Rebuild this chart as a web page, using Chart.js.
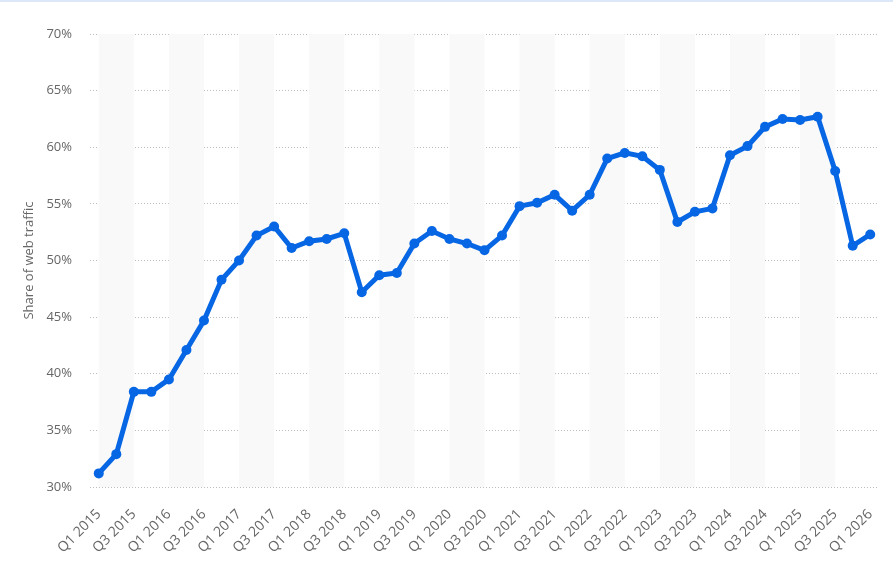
<!DOCTYPE html>
<html>
<head>
<meta charset="utf-8">
<script src="https://cdn.jsdelivr.net/npm/chart.js@4"></script>
<style>
    html, body { margin: 0; padding: 0; background: #fff; }
    body { border-top: 2px solid #dce8f8; }
    #wrap { width: 893px; height: 565px; position: relative; }
</style>
</head>
<body>
<div id="wrap"><canvas id="chart"></canvas></div>
<script>
const years = [2015, 2016, 2017, 2018, 2019, 2020, 2021, 2022, 2023, 2024, 2025, 2026];

const quarters = [];
years.forEach(y => {
    for (let q = 1; q <= 4; q++) {
        if (y === 2026 && q > 1) return;
        quarters.push("Q" + q + " " + y);
    }
});

const share = [
    31.2, 32.9, 38.4, 38.4, 39.5, 42.1, 44.7, 48.3,
    50.0, 52.2, 53.0, 51.1, 51.7, 51.9, 52.4, 47.2,
    48.7, 48.9, 51.5, 52.6, 51.9, 51.5, 50.9, 52.2,
    54.8, 55.1, 55.8, 54.4, 55.8, 59.0, 59.5, 59.2,
    58.0, 53.4, 54.3, 54.6, 59.3, 60.1, 61.8, 62.5,
    62.4, 62.7, 57.9, 51.3, 52.3
];

const yTicks = [30, 35, 40, 45, 50, 55, 60, 65, 70];

const blue = "#0766e4";
const grey = "#666666";

// light columns behind every other pair of quarters
const bands = {
    id: "bands",
    beforeDatasetsDraw(chart) {
        const { ctx, chartArea, scales } = chart;
        ctx.save();
        ctx.fillStyle = "#f9f9f9";
        for (let i = 0; i + 2 < quarters.length; i += 4) {
            const x0 = scales.x.getPixelForValue(i);
            const x1 = scales.x.getPixelForValue(i + 2);
            ctx.fillRect(x0, chartArea.top, x1 - x0, chartArea.bottom - chartArea.top);
        }
        ctx.restore();
    }
};

new Chart(document.getElementById("chart"), {
    type: "line",
    data: {
        labels: quarters,
        datasets: [
            {
                label: "Share of web traffic",
                data: share,
                borderColor: blue,
                backgroundColor: blue,
                borderWidth: 5,
                pointRadius: 5,
                pointHoverRadius: 5,
                pointBackgroundColor: blue,
                pointBorderWidth: 0,
                tension: 0,
                fill: false
            }
        ]
    },
    options: {
        responsive: true,
        maintainAspectRatio: false,
        animation: false,
        layout: {
            padding: { top: 32, right: 14, left: 17, bottom: 0 }
        },
        plugins: {
            legend: { display: false },
            tooltip: { enabled: false }
        },
        scales: {
            x: {
                offset: true,
                grid: { display: false, drawTicks: false },
                border: { display: false },
                ticks: {
                    autoSkip: false,
                    maxRotation: 45,
                    minRotation: 45,
                    padding: 19,
                    color: grey,
                    font: { family: "'Open Sans'", size: 14 },
                    callback: (v, i) => (i % 2 === 0 ? quarters[i] : "")
                },
                afterFit: (scale) => {
                    scale.height = 80;
                    scale.paddingLeft = 0;
                    scale.paddingRight = 0;
                }
            },
            y: {
                min: 30,
                max: 70,
                afterBuildTicks: (scale) => {
                    scale.ticks = yTicks.map(v => ({ value: v }));
                },
                grid: {
                    color: "#bdbdbd",
                    lineWidth: 1,
                    drawTicks: false
                },
                border: { display: false, dash: [1, 2] },
                ticks: {
                    padding: 18,
                    color: grey,
                    font: { family: "'Open Sans'", size: 13 },
                    callback: v => v + "%"
                },
                title: {
                    display: true,
                    text: "Share of web traffic",
                    color: grey,
                    padding: { top: 4, bottom: 0 },
                    font: { family: "'Open Sans'", size: 13 }
                },
                afterFit: (scale) => { scale.width = 73; }
            }
        }
    },
    plugins: [bands]
});
</script>
</body>
</html>
